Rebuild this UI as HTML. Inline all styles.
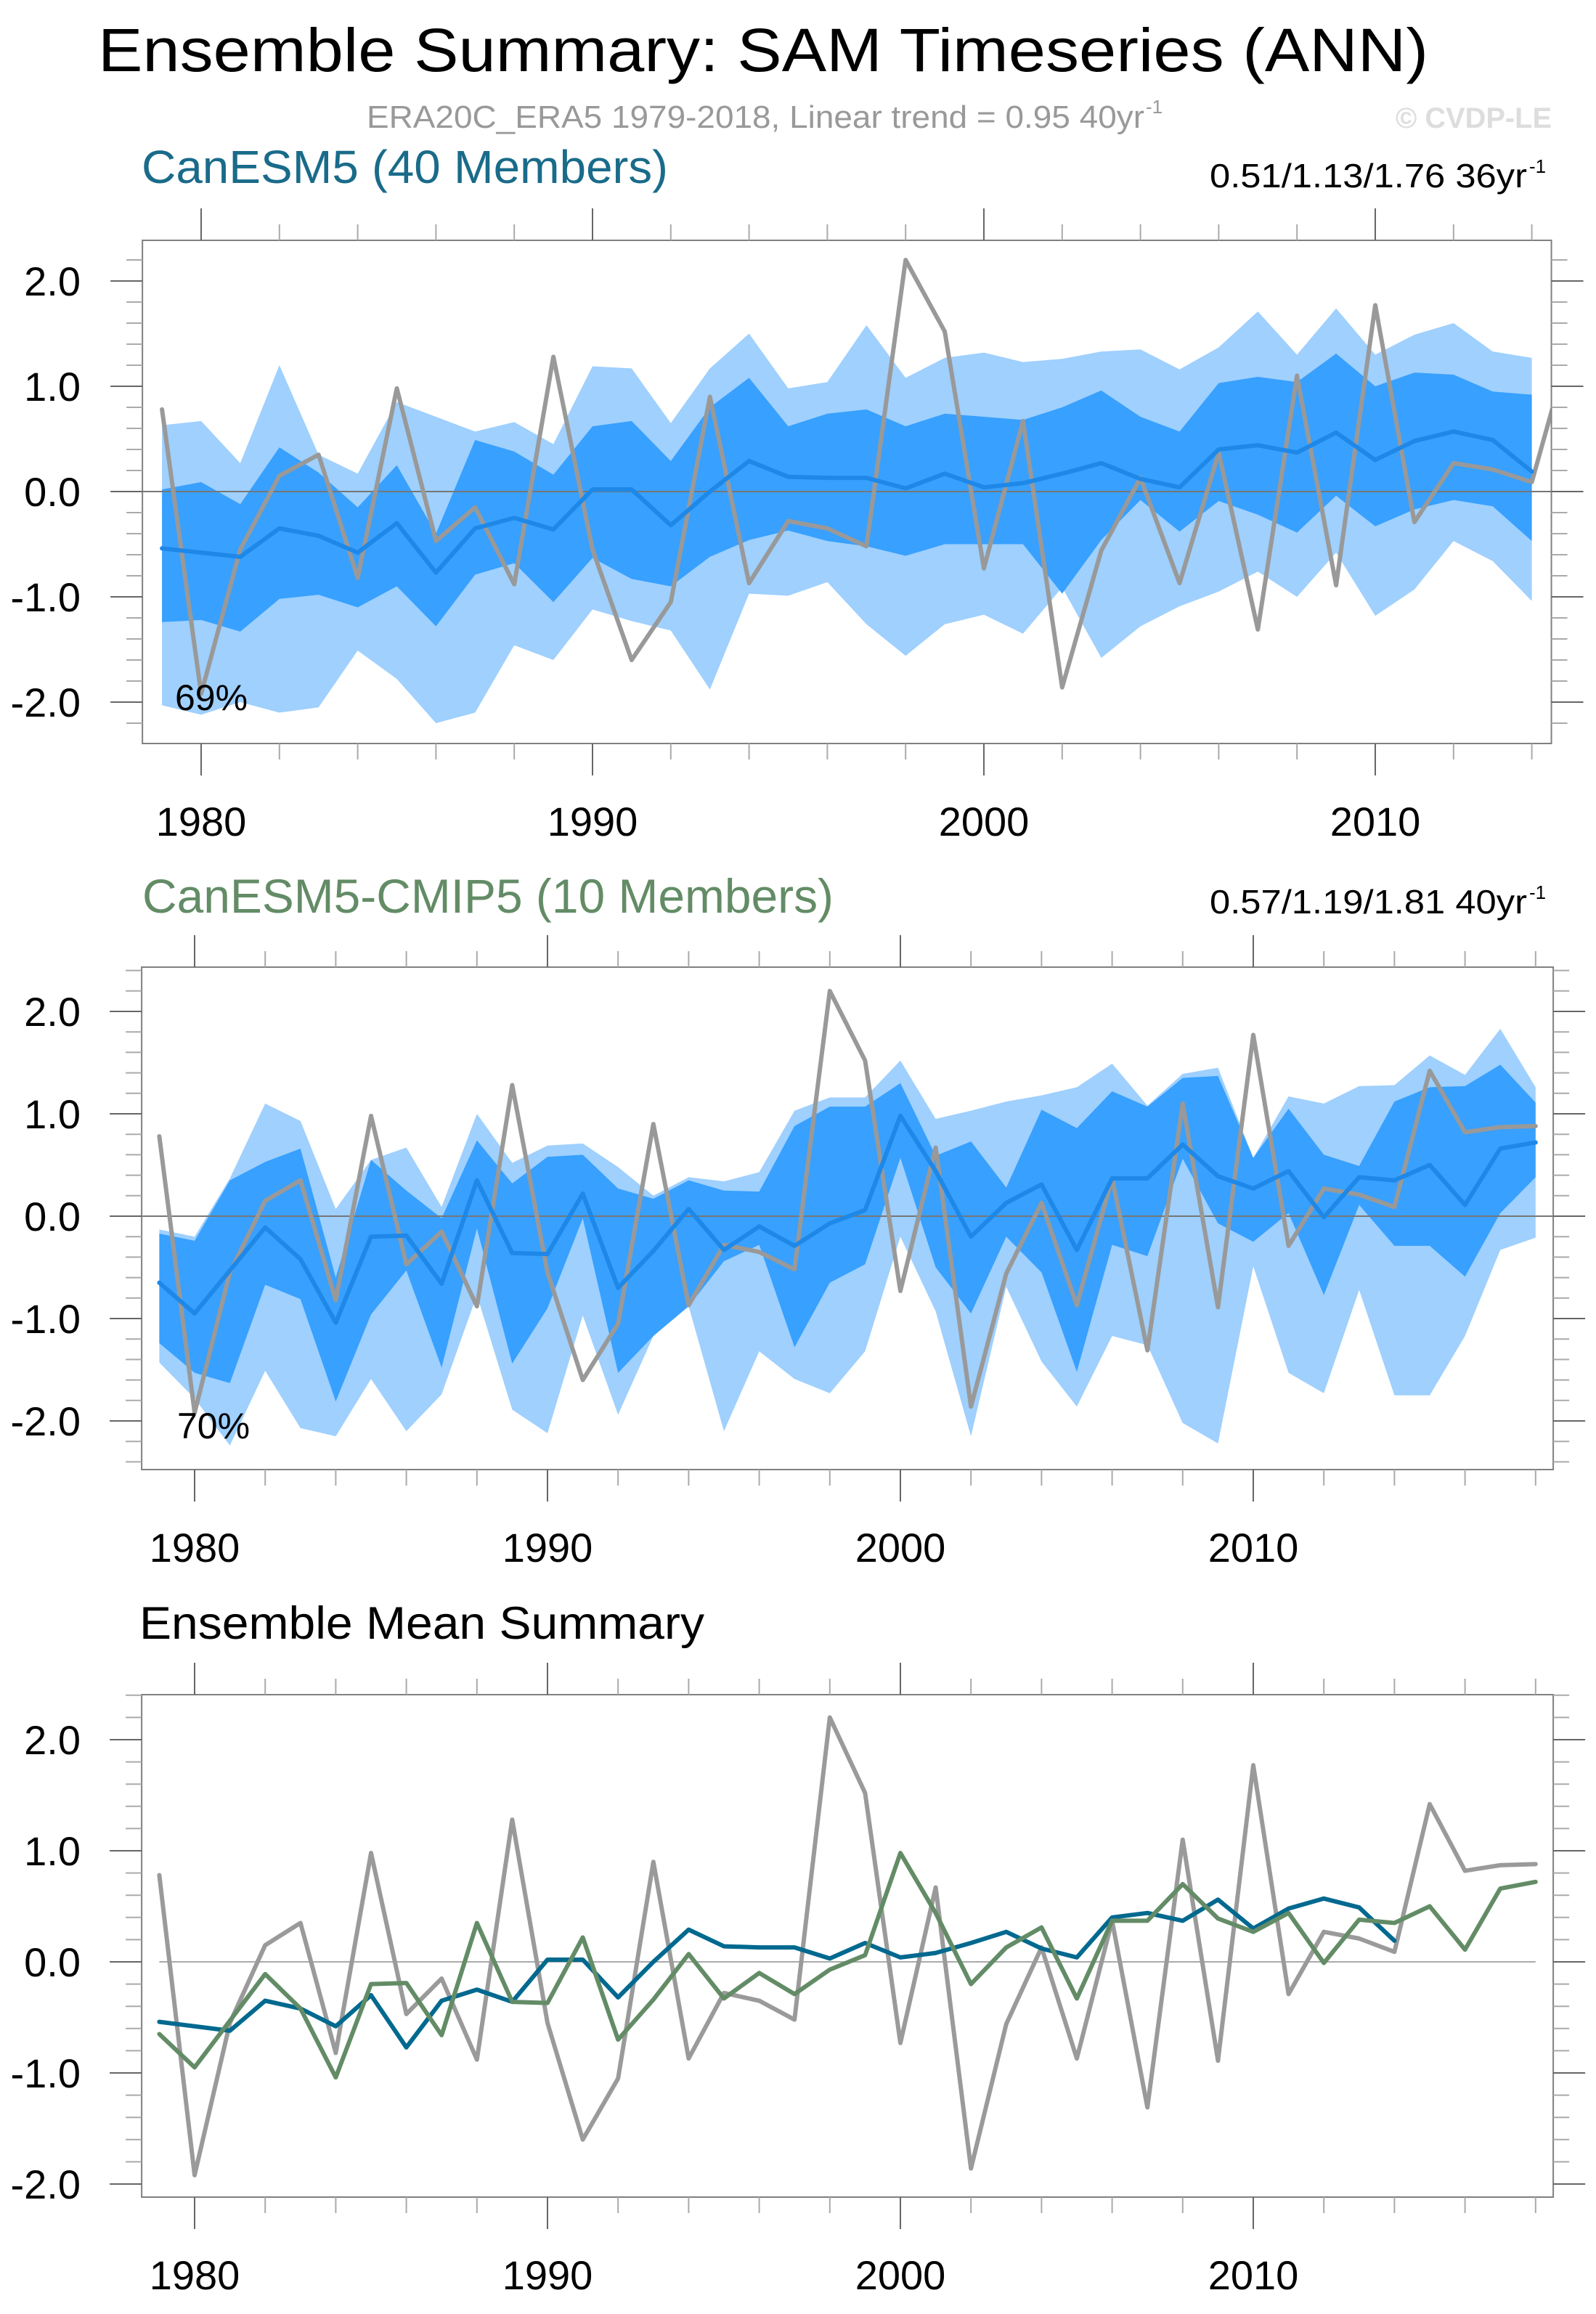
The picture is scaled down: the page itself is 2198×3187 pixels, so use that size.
<!DOCTYPE html>
<html><head><meta charset="utf-8">
<style>
html,body{margin:0;padding:0;background:#fff;}
svg{display:block;font-family:"Liberation Sans",Arial,sans-serif;}
</style></head>
<body>
<svg id="chart" xmlns="http://www.w3.org/2000/svg" width="2198" height="3187" viewBox="0 0 2198 3187">
<rect x="0" y="0" width="2198" height="3187" fill="#fff"/>
<text x="135" y="98" font-size="84" textLength="1832" lengthAdjust="spacingAndGlyphs" fill="#000">Ensemble Summary: SAM Timeseries (ANN)</text>
<text x="505" y="176" font-size="44" fill="#999" textLength="1071" lengthAdjust="spacingAndGlyphs">ERA20C_ERA5 1979-2018, Linear trend = 0.95 40yr</text>
<text x="1578" y="156" font-size="26" fill="#999">-1</text>
<text x="1922" y="176" font-size="40" font-weight="bold" fill="#ddd" textLength="215" lengthAdjust="spacingAndGlyphs">© CVDP-LE</text>

<text x="195" y="252" font-size="64" fill="#1a6b8a" textLength="725" lengthAdjust="spacingAndGlyphs">CanESM5 (40 Members)</text>
<text x="1666" y="258" font-size="46" fill="#000" textLength="437" lengthAdjust="spacingAndGlyphs">0.51/1.13/1.76 36yr</text>
<text x="2106" y="238" font-size="26" fill="#000">-1</text>

<text x="196" y="1257" font-size="66" fill="#638c66" textLength="952" lengthAdjust="spacingAndGlyphs">CanESM5-CMIP5 (10 Members)</text>
<text x="1666" y="1258" font-size="46" fill="#000" textLength="437" lengthAdjust="spacingAndGlyphs">0.57/1.19/1.81 40yr</text>
<text x="2106" y="1238" font-size="26" fill="#000">-1</text>

<text x="192" y="2257" font-size="63" fill="#000" textLength="778" lengthAdjust="spacingAndGlyphs">Ensemble Mean Summary</text>
</svg>
<script>
// ---- data ----
const years36 = [1979,1980,1981,1982,1983,1984,1985,1986,1987,1988,1989,1990,1991,1992,1993,1994,1995,1996,1997,1998,1999,2000,2001,2002,2003,2004,2005,2006,2007,2008,2009,2010,2011,2012,2013,2014];
const years40 = [1979,1980,1981,1982,1983,1984,1985,1986,1987,1988,1989,1990,1991,1992,1993,1994,1995,1996,1997,1998,1999,2000,2001,2002,2003,2004,2005,2006,2007,2008,2009,2010,2011,2012,2013,2014,2015,2016,2017,2018];
const obsValues = [0.78,-1.92,-0.55,0.15,0.35,-0.82,0.98,-0.47,-0.15,-0.88,1.28,-0.55,-1.60,-1.05,0.90,-0.87,-0.28,-0.35,-0.52,2.20,1.52,-0.73,0.67,-1.86,-0.56,0.13,-0.87,0.37,-1.31,1.10,-0.89,1.77,-0.29,0.27,0.21,0.09,1.42,0.82,0.87,0.88];
const canesm5Mean = [-0.54,-0.58,-0.62,-0.35,-0.42,-0.58,-0.30,-0.77,-0.35,-0.25,-0.36,0.02,0.02,-0.32,0.00,0.29,0.14,0.13,0.13,0.03,0.17,0.04,0.08,0.17,0.27,0.12,0.04,0.40,0.44,0.37,0.56,0.30,0.48,0.57,0.49,0.19];
const canesm5OuterHi = [0.63,0.67,0.27,1.20,0.35,0.17,0.85,0.71,0.57,0.66,0.45,1.19,1.17,0.65,1.17,1.50,0.98,1.04,1.58,1.08,1.27,1.32,1.23,1.26,1.33,1.35,1.16,1.37,1.71,1.30,1.74,1.30,1.49,1.60,1.33,1.27];
const canesm5InnerHi = [0.02,0.09,-0.12,0.42,0.18,-0.15,0.25,-0.40,0.49,0.38,0.16,0.62,0.67,0.29,0.80,1.08,0.62,0.74,0.78,0.62,0.74,0.71,0.68,0.80,0.96,0.71,0.57,1.03,1.09,1.04,1.31,1.00,1.13,1.11,0.95,0.92];
const canesm5InnerLo = [-1.24,-1.22,-1.33,-1.02,-0.98,-1.10,-0.90,-1.28,-0.79,-0.68,-1.05,-0.63,-0.83,-0.90,-0.62,-0.46,-0.37,-0.47,-0.52,-0.61,-0.50,-0.50,-0.50,-0.97,-0.46,-0.08,-0.38,-0.09,-0.22,-0.39,-0.04,-0.33,-0.17,-0.08,-0.14,-0.47];
const canesm5OuterLo = [-2.03,-2.12,-2.00,-2.10,-2.05,-1.51,-1.78,-2.20,-2.10,-1.46,-1.60,-1.12,-1.23,-1.32,-1.88,-0.97,-0.99,-0.86,-1.26,-1.56,-1.26,-1.17,-1.35,-0.91,-1.58,-1.28,-1.09,-0.95,-0.76,-1.00,-0.58,-1.18,-0.93,-0.47,-0.66,-1.04];
const cmip5Mean = [-0.65,-0.95,-0.53,-0.11,-0.42,-1.04,-0.20,-0.19,-0.66,0.35,-0.36,-0.37,0.22,-0.70,-0.34,0.07,-0.33,-0.10,-0.29,-0.07,0.06,0.98,0.44,-0.20,0.13,0.31,-0.33,0.37,0.37,0.70,0.39,0.27,0.44,-0.01,0.38,0.35,0.50,0.11,0.66,0.72];
const cmip5OuterHi = [-0.13,-0.20,0.37,1.10,0.93,0.07,0.55,0.67,0.09,1.00,0.52,0.69,0.71,0.48,0.20,0.38,0.34,0.43,1.03,1.16,1.16,1.52,0.95,1.03,1.12,1.18,1.26,1.49,1.08,1.39,1.45,0.57,1.17,1.10,1.27,1.28,1.57,1.38,1.83,1.26];
const cmip5InnerHi = [-0.17,-0.24,0.35,0.53,0.66,-0.60,0.55,0.25,-0.02,0.74,0.32,0.58,0.60,0.27,0.17,0.35,0.25,0.24,0.88,1.07,1.07,1.30,0.59,0.73,0.28,1.04,0.86,1.22,1.07,1.35,1.37,0.57,1.05,0.60,0.49,1.12,1.26,1.27,1.48,1.11];
const cmip5InnerLo = [-1.24,-1.53,-1.63,-0.67,-0.81,-1.81,-0.96,-0.53,-1.48,-0.12,-1.44,-0.90,-0.02,-1.53,-1.17,-0.88,-0.44,-0.28,-1.28,-0.65,-0.47,0.57,-0.50,-0.95,-0.20,-0.55,-1.52,-0.28,-0.39,0.56,-0.07,-0.25,0.03,-0.77,0.11,-0.29,-0.29,-0.59,0.03,0.38];
const cmip5OuterLo = [-1.43,-1.78,-2.24,-1.51,-2.07,-2.15,-1.59,-2.10,-1.74,-0.77,-1.89,-2.12,-0.97,-1.94,-1.17,-0.88,-2.10,-1.32,-1.59,-1.73,-1.32,-0.20,-0.93,-2.15,-0.69,-1.42,-1.86,-1.17,-1.26,-2.02,-2.22,-0.49,-1.53,-1.73,-0.72,-1.75,-1.75,-1.17,-0.33,-0.21];
const yTickValues = [-2,-1,0,1,2];
const yTickLabels = ["-2.0","-1.0","0.0","1.0","2.0"];
const xTickYears = [1980,1990,2000,2010];
const pctLabels = ["69%","70%"];

// ---- helpers ----
const NS = "http://www.w3.org/2000/svg";
const svg = document.getElementById("chart");
function mk(tag, attrs, parent) {
  const e = document.createElementNS(NS, tag);
  for (const k in attrs) e.setAttribute(k, attrs[k]);
  (parent || svg).appendChild(e);
  return e;
}
function makePanel(cfg) {
  const g = mk("g", {});
  
  
  const X = yr => cfg.x0 + (yr - 1980) * cfg.dx;
  const Y = v => cfg.y0 - v * cfg.dy;
  const L = X(1978.5), R = X(cfg.xEnd + 0.5);
  const clipId = cfg.name + "-clip";
  const cp = mk("clipPath", {id: clipId}, g);
  mk("rect", {x: L, y: cfg.top, width: R - L, height: cfg.bottom - cfg.top}, cp);
  const plot = mk("g", {"clip-path": "url(#" + clipId + ")"}, g);
  return {g, plot, X, Y, L, R};
}
function band(p, yrs, hi, lo, color, name) {
  let pts = [];
  for (let i = 0; i < yrs.length; i++) pts.push(p.X(yrs[i]) + "," + p.Y(hi[i]));
  for (let i = yrs.length - 1; i >= 0; i--) pts.push(p.X(yrs[i]) + "," + p.Y(lo[i]));
  const e = mk("polygon", {points: pts.join(" "), fill: color}, p.plot);
  
  
}
function line(p, yrs, vals, color, w, name) {
  const pts = yrs.map((y, i) => p.X(y) + "," + p.Y(vals[i])).join(" ");
  const e = mk("polyline", {points: pts, fill: "none", stroke: color, "stroke-width": w, "stroke-linejoin": "round", "stroke-linecap": "round"}, p.plot);
  
  
}
function axes(p, cfg) {
  const g = p.g;
  const fr = mk("rect", {x: p.L, y: cfg.top, width: p.R - p.L, height: cfg.bottom - cfg.top, fill: "none", stroke: "#808080", "stroke-width": 2}, g);
  
  
  for (let yr = 1980; yr <= cfg.xEnd; yr += 2) {
    const major = yr % 10 === 0;
    const len = major ? 44 : 22;
    const x = p.X(yr);
    const c = major ? "#666" : "#aaa";
    mk("line", {x1: x, x2: x, y1: cfg.top, y2: cfg.top - len, stroke: c, "stroke-width": 2}, g);
    mk("line", {x1: x, x2: x, y1: cfg.bottom, y2: cfg.bottom + len, stroke: c, "stroke-width": 2}, g);
  }
  xTickYears.forEach(yr => {
    const t = mk("text", {x: p.X(yr), y: cfg.bottom + 127, "font-size": 56, "text-anchor": "middle", fill: "#000"}, g);
    t.textContent = String(yr);
    
    
  });
  const vTop = (cfg.y0 - cfg.top) / cfg.dy, vBot = (cfg.y0 - cfg.bottom) / cfg.dy;
  for (let k = Math.ceil(vBot * 5 - 1e-6); k <= Math.floor(vTop * 5 + 1e-6); k++) {
    const v = k / 5;
    const major = k % 5 === 0;
    const len = major ? 44 : 22;
    const y = p.Y(v);
    const c = major ? "#666" : "#aaa";
    mk("line", {x1: p.L, x2: p.L - len, y1: y, y2: y, stroke: c, "stroke-width": 2}, g);
    mk("line", {x1: p.R, x2: p.R + len, y1: y, y2: y, stroke: c, "stroke-width": 2}, g);
  }
  yTickValues.forEach((v, i) => {
    const t = mk("text", {x: 111, y: p.Y(v) + 20, "font-size": 56, "text-anchor": "end", fill: "#000"}, g);
    t.textContent = yTickLabels[i];
    
    
  });
}

// ---- panel 1 ----
const c1 = {name: "canesm5-panel", x0: 277, dx: 53.9, y0: 677, dy: 145, top: 331, bottom: 1024, xEnd: 2014};
const p1 = makePanel(c1);
band(p1, years36, canesm5OuterHi, canesm5OuterLo, "#9fd0fe", "canesm5-outer-range");
band(p1, years36, canesm5InnerHi, canesm5InnerLo, "#38a0fe", "canesm5-inner-range");
mk("line", {x1: p1.L, x2: p1.R, y1: p1.Y(0), y2: p1.Y(0), stroke: "#777", "stroke-width": 2}, p1.plot);
line(p1, years40, obsValues, "#999", 6, "panel1-observed-line");
line(p1, years36, canesm5Mean, "#1e88e8", 6, "canesm5-ensemble-mean-line");
axes(p1, c1);
let t1 = mk("text", {x: 241, y: 978, "font-size": 50, fill: "#000"}, p1.g);
t1.textContent = pctLabels[0];



// ---- panel 2 ----
const c2 = {name: "canesm5-cmip5-panel", x0: 268, dx: 48.6, y0: 1675, dy: 141, top: 1332, bottom: 2024, xEnd: 2018};
const p2 = makePanel(c2);
band(p2, years40, cmip5OuterHi, cmip5OuterLo, "#9fd0fe", "cmip5-outer-range");
band(p2, years40, cmip5InnerHi, cmip5InnerLo, "#38a0fe", "cmip5-inner-range");
mk("line", {x1: p2.L, x2: p2.R, y1: p2.Y(0), y2: p2.Y(0), stroke: "#777", "stroke-width": 2}, p2.plot);
line(p2, years40, obsValues, "#999", 6, "panel2-observed-line");
line(p2, years40, cmip5Mean, "#1e88e8", 6, "cmip5-ensemble-mean-line");
axes(p2, c2);
let t2 = mk("text", {x: 244, y: 1981, "font-size": 50, fill: "#000"}, p2.g);
t2.textContent = pctLabels[1];



// ---- panel 3 ----
const c3 = {name: "ensemble-mean-panel", x0: 268, dx: 48.6, y0: 2702, dy: 153, top: 2334, bottom: 3026, xEnd: 2018};
const p3 = makePanel(c3);
mk("line", {x1: p3.X(1979), x2: p3.X(2018), y1: p3.Y(0), y2: p3.Y(0), stroke: "#aaa", "stroke-width": 2}, p3.plot);
line(p3, years40, obsValues, "#9a9a9a", 6, "panel3-observed-line");
line(p3, years36, canesm5Mean, "#00698f", 6, "panel3-canesm5-mean-line");
line(p3, years40, cmip5Mean, "#638c66", 6, "panel3-cmip5-mean-line");
axes(p3, c3);
</script>
</body></html>
